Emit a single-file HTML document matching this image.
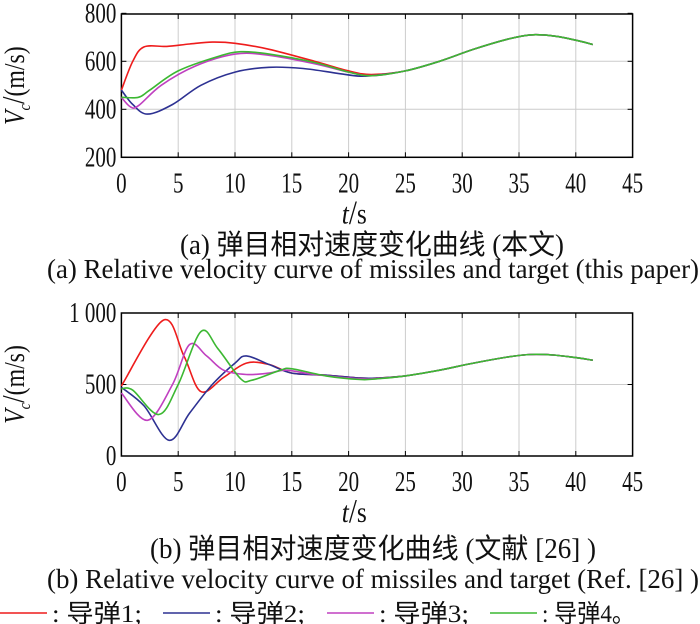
<!DOCTYPE html>
<html><head><meta charset="utf-8"><style>
html,body{margin:0;padding:0;background:#fff;}
svg{display:block;}
text{font-family:"Liberation Serif","Noto Serif CJK SC",serif;fill:#111;}
.cj{font-family:"Liberation Serif","Noto Sans CJK SC",sans-serif;}
</style></head><body>
<svg id="s" width="700" height="624" viewBox="0 0 700 624" xmlns="http://www.w3.org/2000/svg">
<g id="g"></g>
</svg>
<script>
const NS="http://www.w3.org/2000/svg";
const g=document.getElementById('g');
function el(t,a,txt){const e=document.createElementNS(NS,t);for(const k in a)e.setAttribute(k,a[k]);if(txt!=null)e.textContent=txt;g.appendChild(e);return e;}
const L=121.4,R=632.6;
const X=t=>L+t*(R-L)/45;
function cr(pts){let d="M"+pts[0][0].toFixed(1)+","+pts[0][1].toFixed(1);
 for(let i=0;i<pts.length-1;i++){const p0=pts[i-1]||pts[i],p1=pts[i],p2=pts[i+1],p3=pts[i+2]||p2;
 const c1=[p1[0]+(p2[0]-p0[0])/6,p1[1]+(p2[1]-p0[1])/6],c2=[p2[0]-(p3[0]-p1[0])/6,p2[1]-(p3[1]-p1[1])/6];
 d+=" C"+c1.map(v=>v.toFixed(1))+" "+c2.map(v=>v.toFixed(1))+" "+p2[0].toFixed(1)+","+p2[1].toFixed(1);}return d;}
const tail=[[25,560],[28,600],[31,650],[34,692],[36,710],[38,706],[40,688],[41.5,670]];
function sx(x,y,k){return `translate(${x},${y}) scale(${k},1) translate(${-x},${-y})`;}
function axes(T,B,yt,Y,ylabels){
 for(let t=5;t<45;t+=5)el('line',{x1:X(t),x2:X(t),y1:T,y2:B,stroke:'#ccc','stroke-width':1});
 yt.forEach(v=>{const y=Y(v);if(y>T+1&&y<B-1)el('line',{x1:L,x2:R,y1:y,y2:y,stroke:'#ccc','stroke-width':1});});
 for(let t=5;t<45;t+=5){el('line',{x1:X(t),x2:X(t),y1:B,y2:B-5,stroke:'#000'});el('line',{x1:X(t),x2:X(t),y1:T,y2:T+5,stroke:'#000'});}
 yt.forEach(v=>{const y=Y(v);el('line',{x1:L,x2:L+5,y1:y,y2:y,stroke:'#000'});el('line',{x1:R,x2:R-5,y1:y,y2:y,stroke:'#000'});});
 el('rect',{x:L,y:T,width:R-L,height:B-T,fill:'none',stroke:'#000','stroke-width':1.5});
 for(let t=0;t<=45;t+=5)el('text',{x:X(t),y:B+35,'font-size':28,'text-anchor':'middle',transform:sx(X(t),B+35,0.75)},String(t));
 ylabels.forEach(([v,s])=>{const y=Y(v)+9;el('text',{x:L-5,y:y,'font-size':28,'text-anchor':'end',transform:sx(L-5,y,0.75)},s);});
 const ty=B+66;const tx=el('text',{x:X(20.5),y:ty,'font-size':30,'text-anchor':'middle',transform:sx(X(20.5),ty,0.85)});
 tx.innerHTML='<tspan font-style="italic">t</tspan><tspan font-size="34">/</tspan>s';
 const cy=(T+B)/2;const yl=el('text',{x:0,y:0,'font-size':28,'text-anchor':'middle',transform:`translate(24,${cy}) rotate(-90) scale(0.85,1)`});
 yl.innerHTML='<tspan font-style="italic">V</tspan><tspan font-style="italic" font-size="17" dy="6">c</tspan><tspan dy="-6" font-size="32">/</tspan>(m/s)';
}
function series(Y,data){const cols=['#ee1c1c','#2d3192','#c040c0','#3cb832'];
 data.forEach((d,i)=>{const pts=d.concat(tail).map(p=>[X(p[0]),Y(p[1])]);el('path',{d:cr(pts),fill:'none',stroke:cols[i],'stroke-width':1.6});});}
const Y1=v=>157.3-(v-200)*0.24;
axes(14,157.3,[200,400,600,800],Y1,[[200,'200'],[400,'400'],[600,'600'],[800,'800']]);
series(Y1,[
 [[0,480],[1,600],[2,660],[4,662],[6,672],[8,680],[10,675],[13,650],[17,600],[20,560],[22,545]],
 [[0,480],[1,420],[2.3,380],[4.5,420],[7,500],[10,555],[13,575],[16,570],[19,550],[21,538],[22.5,542]],
 [[0,450],[0.8,410],[1.5,415],[3.5,500],[6.5,580],[10,630],[13,625],[17,590],[20,555],[22,540]],
 [[0,450],[1.5,450],[2.5,480],[5,560],[8.5,620],[10.5,640],[13,630],[17,595],[20,555],[22,540]]]);
const Y2=v=>456-v*0.143;
axes(313,456,[0,500,1000],Y2,[[0,'0'],[500,'500'],[1000,'1 000']]);
series(Y2,[
 [[0,490],[3.7,950],[5.5,700],[7,450],[9,550],[11,650],[13,640],[15,580],[18,565],[21,545],[22.5,545]],
 [[0,480],[2,350],[4.2,110],[6,300],[8,500],[10,650],[11,700],[13,640],[15,580],[18,565],[21,545],[22.5,545]],
 [[0,440],[2.3,250],[4.5,500],[6,780],[7.5,700],[9,600],[11,570],[13,580],[14.5,600],[17,570],[21,540],[22.5,542]],
 [[0,470],[1,460],[3.3,290],[5,500],[7,870],[8.5,750],[10.5,540],[11.5,530],[14,600],[15,610],[18,560],[21,535],[22.5,540]]]);
function cap(x,y,w,s,cls,fs){const a={x:x,y:y,'font-size':fs||27,textLength:w,lengthAdjust:'spacingAndGlyphs'};if(cls)a['class']=cls;el('text',a,s);}
cap(180,254,384,'(a) 弹目相对速度变化曲线 (本文)','cj',28);
cap(47,278,652,'(a) Relative velocity curve of missiles and target (this paper)');
cap(150,558,446,'(b) 弹目相对速度变化曲线 (文献 [26] )','cj',28);
cap(47,588,652,'(b) Relative velocity curve of missiles and target (Ref. [26] )');
const lc=['#ee1c1c','#2d3192','#c040c0','#3cb832'],lx=[0,163,327,490];
for(let i=0;i<4;i++){el('line',{x1:lx[i],x2:lx[i]+47,y1:613,y2:613,stroke:lc[i],'stroke-width':1.6});
 el('text',{x:lx[i]+52,y:622,'font-size':25,'class':'cj',textLength:i==3?93:90,lengthAdjust:'spacingAndGlyphs'},': 导弹'+(i+1)+(i==3?'。':';'));}
</script>
</body></html>
